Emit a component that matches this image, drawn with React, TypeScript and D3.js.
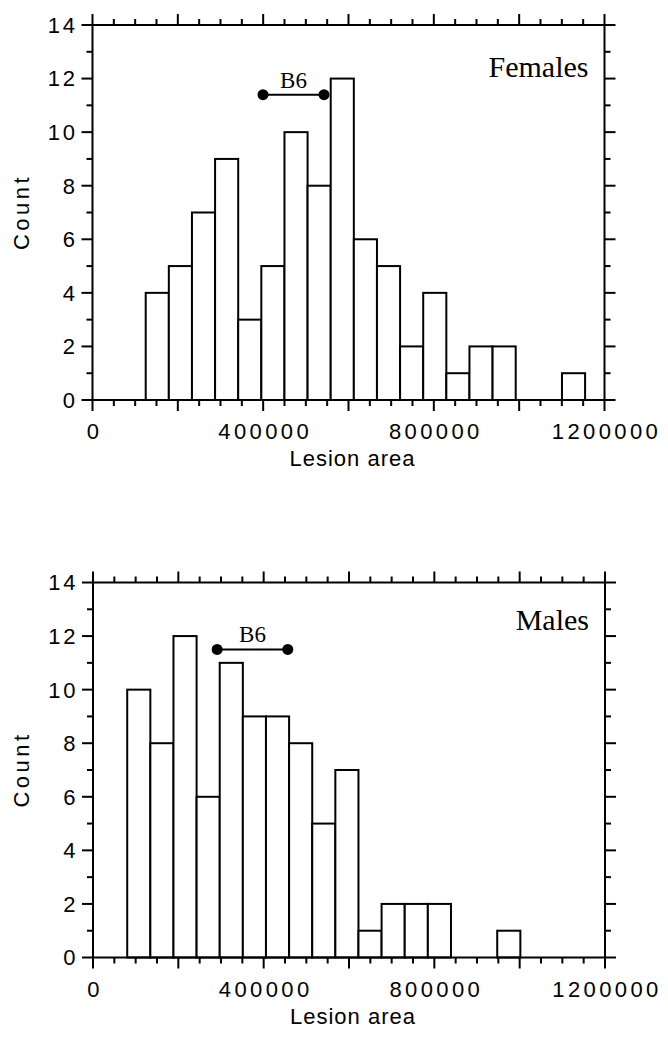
import React from 'react';
import * as d3 from 'd3';

// counts per bin
const femaleCounts = [4, 5, 7, 9, 3, 5, 10, 8, 12, 6, 5, 2, 4, 1, 2, 2, 0, 0, 1];
const maleCounts = [10, 8, 12, 6, 11, 9, 9, 8, 5, 7, 1, 2, 2, 2, 0, 0, 1];
const femaleFirstBin = 124700;
const maleFirstBin = 80200;
const binWidth = 54200;

// B6 range markers
const femaleB6 = [399600, 542600];
const maleB6 = [291000, 456600];
const femaleB6Level = 11.4;
const maleB6Level = 11.5;

const xTickLabels = [0, 400000, 800000, 1200000];
const yTickLabels = [0, 2, 4, 6, 8, 10, 12, 14];

const W = 512;
const H = 375;

const sans = 'Liberation Sans, Arial, Helvetica, sans-serif';
const serif = 'Liberation Serif, Times New Roman, serif';

function Panel({ left, top, counts, firstBin, b6, b6Level, title, titleDrop }) {
  const x = d3.scaleLinear().domain([0, 1200000]).range([left, left + W]);
  const y = d3.scaleLinear().domain([0, 14]).range([top + H, top]);
  const bottom = top + H;
  const right = left + W;

  const xMinor = x.ticks(24);
  const xMajor = x.ticks(6);
  const yMinor = y.ticks(14);
  const yMajor = y.ticks(7);

  return (
    <g>
      {/* bars */}
      {counts.map((c, i) =>
        c > 0 ? (
          <rect
            key={i}
            x={x(firstBin + i * binWidth)}
            y={y(c)}
            width={x(firstBin + (i + 1) * binWidth) - x(firstBin + i * binWidth)}
            height={y(0) - y(c)}
            fill="#fff"
            stroke="#000"
            strokeWidth={2}
          />
        ) : null
      )}

      {/* frame */}
      <rect x={left} y={top} width={W} height={H} fill="none" stroke="#000" strokeWidth={2} />

      {/* x ticks, bottom and top, pointing out */}
      {xMinor.map((t) => {
        const len = xMajor.includes(t) ? 11 : 6;
        return (
          <g key={'x' + t} stroke="#000" strokeWidth={2}>
            <line x1={x(t)} x2={x(t)} y1={bottom} y2={bottom + len} />
            <line x1={x(t)} x2={x(t)} y1={top} y2={top - len} />
          </g>
        );
      })}
      {/* y ticks, left and right */}
      {yMinor.map((t) => {
        const len = yMajor.includes(t) ? 11 : 6;
        return (
          <g key={'y' + t} stroke="#000" strokeWidth={2}>
            <line x1={left} x2={left - len} y1={y(t)} y2={y(t)} />
            <line x1={right} x2={right + len} y1={y(t)} y2={y(t)} />
          </g>
        );
      })}

      {xTickLabels.map((t) => (
        <text
          key={'xl' + t}
          x={x(t) + 2}
          y={bottom + 39}
          textAnchor="middle"
          fontFamily={sans}
          fontSize={22}
          letterSpacing={3.4}
        >
          {t}
        </text>
      ))}
      {yTickLabels.map((t) => (
        <text
          key={'yl' + t}
          x={left - 15}
          y={y(t)}
          dy="0.36em"
          textAnchor="end"
          fontFamily={sans}
          fontSize={22}
          letterSpacing={2.6}
        >
          {t}
        </text>
      ))}

      <text
        x={(left + right) / 2 + 4}
        y={bottom + 66}
        textAnchor="middle"
        fontFamily={sans}
        fontSize={22}
        letterSpacing={1}
      >
        Lesion area
      </text>
      <text
        transform={`translate(${left - 64},${top + 187}) rotate(-90)`}
        textAnchor="middle"
        fontFamily={sans}
        fontSize={22}
        letterSpacing={3.5}
      >
        Count
      </text>

      <text x={right - 16} y={top + 52 - titleDrop} textAnchor="end" fontFamily={serif} fontSize={30}>
        {title}
      </text>

      {/* B6 marker */}
      <line x1={x(b6[0])} x2={x(b6[1])} y1={y(b6Level)} y2={y(b6Level)} stroke="#000" strokeWidth={2} />
      {b6.map((v) => (
        <circle key={'b' + v} cx={x(v)} cy={y(b6Level)} r={5.5} fill="#000" />
      ))}
      <text
        x={(x(b6[0]) + x(b6[1])) / 2}
        y={y(b6Level) - 7}
        textAnchor="middle"
        fontFamily={serif}
        fontSize={23}
      >
        B6
      </text>
    </g>
  );
}

export default function App() {
  return (
    <svg
      width={668}
      height={1041}
      style={{ position: 'absolute', left: 0, top: 0, background: '#fff' }}
    >
      <rect width={668} height={1041} fill="#fff" />
      <Panel
        left={92.5}
        top={25}
        counts={femaleCounts}
        firstBin={femaleFirstBin}
        b6={femaleB6}
        b6Level={femaleB6Level}
        title="Females"
        titleDrop={0}
      />
      <Panel
        left={93}
        top={582.5}
        counts={maleCounts}
        firstBin={maleFirstBin}
        b6={maleB6}
        b6Level={maleB6Level}
        title="Males"
        titleDrop={5}
      />
    </svg>
  );
}
